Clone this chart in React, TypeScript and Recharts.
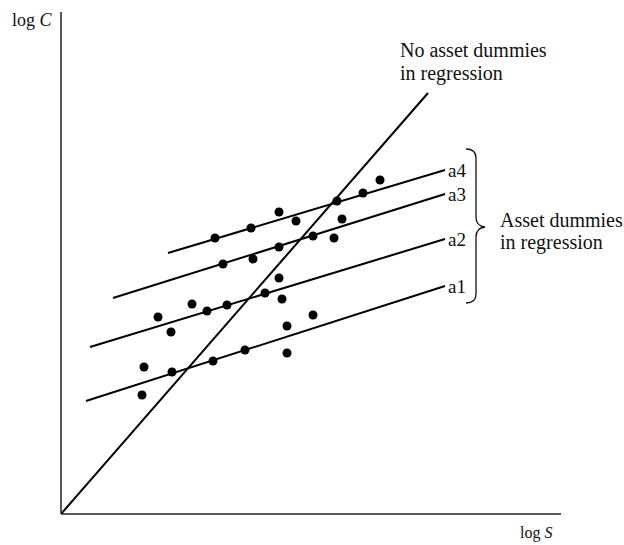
import { ComposedChart, Line, Scatter, XAxis, YAxis, ZAxis } from "recharts";

// values (x = log S, y = log C, arbitrary units)
const firmPoints = [
  { x: 319, y: 334 }, { x: 302, y: 321 }, { x: 276, y: 313 }, { x: 218, y: 302 },
  { x: 235, y: 293 }, { x: 281, y: 295 }, { x: 190, y: 286 }, { x: 154, y: 276 },
  { x: 252, y: 278 }, { x: 273, y: 276 }, { x: 218, y: 267 }, { x: 192, y: 255 },
  { x: 162, y: 250 }, { x: 218, y: 236 }, { x: 204, y: 221 }, { x: 221, y: 215 },
  { x: 131, y: 210 }, { x: 166, y: 209 }, { x: 146, y: 203 }, { x: 97, y: 197 },
  { x: 110, y: 182 }, { x: 252, y: 199 }, { x: 226, y: 188 }, { x: 184, y: 164 },
  { x: 226, y: 161 }, { x: 152, y: 153 }, { x: 111, y: 142 }, { x: 83, y: 147 },
  { x: 81, y: 119 }
];

const pooledLine = [{ x: 0, y: 0 }, { x: 367, y: 421 }];
const lineA4 = [{ x: 107, y: 261 }, { x: 384, y: 344 }];
const lineA3 = [{ x: 52, y: 216 }, { x: 384, y: 320 }];
const lineA2 = [{ x: 29, y: 167 }, { x: 384, y: 275 }];
const lineA1 = [{ x: 25, y: 113 }, { x: 384, y: 228 }];

const groupLines = [
  { name: "a4", data: lineA4 },
  { name: "a3", data: lineA3 },
  { name: "a2", data: lineA2 },
  { name: "a1", data: lineA1 }
];

const SERIF = "'Liberation Serif', 'Times New Roman', serif";
const INK = "#111";

function endLabel(text: string, lastIndex: number) {
  return (props: any) => {
    if (props.index !== lastIndex) return <g />;
    return (
      <text x={props.x + 3} y={props.y + 7} fontFamily={SERIF} fontSize={19} fill={INK}>
        {text}
      </text>
    );
  };
}

function pooledLabel(props: any) {
  if (props.index !== 1) return <g />;
  return (
    <text x={props.x - 28} y={props.y - 36} fontFamily={SERIF} fontSize={20} fill={INK}>
      <tspan x={props.x - 28}>No asset dummies</tspan>
      <tspan x={props.x - 28} dy={23}>in regression</tspan>
    </text>
  );
}

export default function App() {
  return (
    <div style={{ position: "absolute", left: 0, top: 0, width: 624, height: 545, background: "#fff" }}>
      <ComposedChart width={624} height={545} margin={{ top: 12, right: 63, bottom: 30, left: 60 }}>
        <XAxis
          type="number"
          dataKey="x"
          domain={[0, 500]}
          allowDataOverflow
          tick={false}
          tickLine={false}
          height={1}
          axisLine={{ stroke: "#222", strokeWidth: 1.5 }}
        />
        <YAxis
          type="number"
          dataKey="y"
          domain={[0, 502]}
          allowDataOverflow
          tick={false}
          tickLine={false}
          width={1}
          axisLine={{ stroke: "#222", strokeWidth: 1.5 }}
        />
        <ZAxis range={[64, 64]} />
        <Line
          data={pooledLine}
          dataKey="y"
          type="linear"
          stroke="#000"
          strokeWidth={2}
          dot={false}
          label={pooledLabel}
          isAnimationActive={false}
        />
        {groupLines.map((line) => (
          <Line
            key={line.name}
            data={line.data}
            dataKey="y"
            type="linear"
            stroke="#000"
            strokeWidth={2}
            dot={false}
            label={endLabel(line.name, line.data.length - 1)}
            isAnimationActive={false}
          />
        ))}
        <Scatter data={firmPoints} dataKey="y" fill="#000" isAnimationActive={false} />
      </ComposedChart>
      <svg
        width={624}
        height={545}
        style={{ position: "absolute", left: 0, top: 0, pointerEvents: "none" }}
      >
        <text x={12} y={26} fontFamily={SERIF} fontSize={18} fill={INK}>
          log <tspan fontStyle="italic">C</tspan>
        </text>
        <text x={520} y={538} fontFamily={SERIF} fontSize={16} fill={INK}>
          log <tspan fontStyle="italic">S</tspan>
        </text>
        <path
          d="M 466 149 Q 476 149 476 158 L 476 217 Q 476 226 485 227 Q 476 228 476 237 L 476 294 Q 476 303 466 303"
          fill="none"
          stroke={INK}
          strokeWidth={1.3}
        />
        <text fontFamily={SERIF} fontSize={20} fill={INK}>
          <tspan x={500} y={227}>Asset dummies</tspan>
          <tspan x={500} y={249}>in regression</tspan>
        </text>
      </svg>
    </div>
  );
}
